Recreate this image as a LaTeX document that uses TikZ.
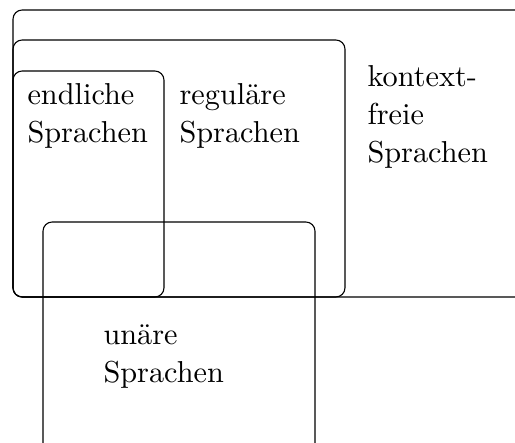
\documentclass[tikz,border=0pt]{standalone}
\begin{document}
\begin{tikzpicture}[x=0.36pt,y=-0.36pt,
  setbox/.style={draw,line width=0.4pt,rounded corners=3.3pt},
  lbl/.style={anchor=base west,inner sep=0pt,align=left,font=\fontsize{10.9}{13.85}\selectfont}]
\useasboundingbox (0,0) rectangle (515,443);
\clip (0,0) rectangle (515,443);
\draw[setbox] (13,10) rectangle (540,297);
\draw[setbox] (13,40) rectangle (345,297);
\draw[setbox] (13,71) rectangle (164,297);
\draw[setbox] (43,222) rectangle (315,470);
\node[lbl] (endl) at (27,143) {endliche\\Sprachen};
\node[lbl] (regl) at (179,143) {reguläre\\Sprachen};
\node[lbl] (cfl) at (367,163) {kontext-\\freie\\Sprachen};
\node[lbl] (unl) at (103,383) {unäre\\Sprachen};
\end{tikzpicture}
\end{document}
